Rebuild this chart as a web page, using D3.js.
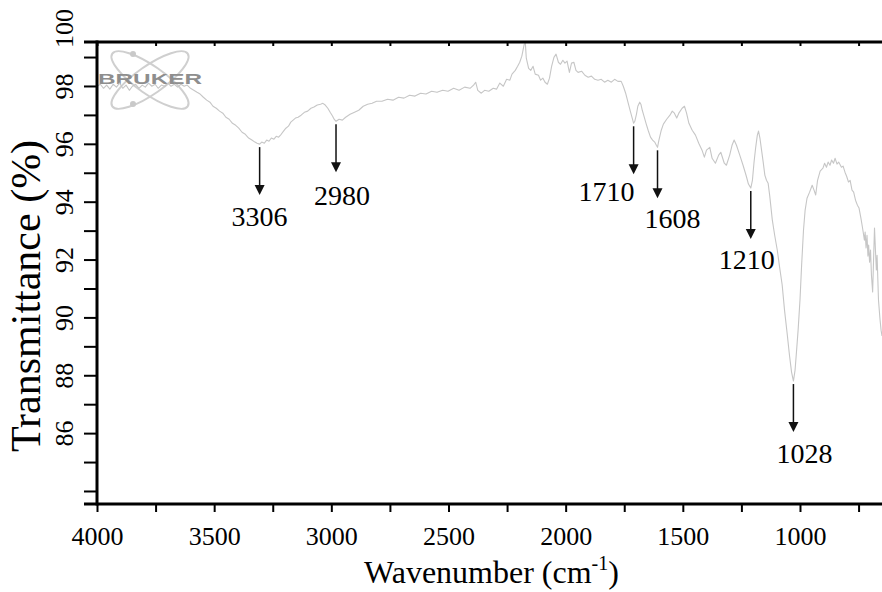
<!DOCTYPE html>
<html>
<head>
<meta charset="utf-8">
<script src="https://cdn.jsdelivr.net/npm/d3@7"></script>
<style>
  html, body { margin: 0; padding: 0; background: #fff; }
  svg { display: block; }
  svg text { font-family: 'Liberation Serif', 'Times New Roman', Times, serif; }
</style>
</head>
<body>
<svg id="chart" width="882" height="592"></svg>
<script>
// FTIR transmittance spectrum: [wavenumber (cm-1), transmittance (%)]
const spectrum = [
  [4000,97.99],[3986,98.06],[3972,97.92],[3959,98.03],[3945,97.89],[3931,98.06],[3917,97.96],[3904,98.10],
  [3890,97.92],[3876,98.03],[3862,97.85],[3849,97.99],[3835,98.06],[3821,97.92],[3807,98.03],[3794,97.96],
  [3780,98.10],[3766,97.99],[3752,98.06],[3739,97.92],[3725,98.03],[3711,97.99],[3697,98.10],[3684,97.99],
  [3670,98.06],[3656,97.96],[3642,98.06],[3628,97.99],[3615,98.03],[3601,97.92],[3587,97.85],[3573,97.78],
  [3560,97.72],[3546,97.61],[3532,97.51],[3518,97.44],[3505,97.30],[3491,97.23],[3477,97.13],[3463,97.06],
  [3450,96.92],[3436,96.85],[3422,96.71],[3408,96.64],[3395,96.54],[3381,96.40],[3367,96.33],[3353,96.20],
  [3339,96.13],[3326,96.06],[3317,96.02],[3306,95.99],
  [3297,96.06],[3286,96.02],[3276,96.13],[3266,96.09],[3256,96.20],[3245,96.16],[3235,96.26],[3225,96.23],
  [3214,96.33],[3204,96.44],[3194,96.54],[3183,96.61],[3173,96.75],[3163,96.82],[3153,96.89],[3142,96.92],
  [3129,96.99],[3115,97.09],[3101,97.13],[3087,97.23],[3074,97.27],[3060,97.34],[3046,97.37],[3036,97.40],
  [3026,97.34],[3015,97.23],[3005,97.09],[2995,96.96],[2988,96.85],[2980,96.78],
  [2967,96.85],[2953,96.82],[2939,96.92],[2920,97.02],[2901,97.09],[2883,97.16],[2864,97.30],[2845,97.37],
  [2826,97.40],[2807,97.47],[2784,97.47],[2760,97.54],[2737,97.51],[2713,97.61],[2690,97.58],[2666,97.68],
  [2643,97.65],[2619,97.75],[2596,97.72],[2572,97.82],[2549,97.78],[2525,97.85],[2502,97.82],[2478,97.92],
  [2455,97.85],[2431,97.96],[2408,97.92],[2393,98.03],[2384,98.13],[2375,97.85],[2360,97.75],[2346,97.85],
  [2328,97.82],[2309,97.92],[2295,97.89],[2281,98.10],[2266,97.99],[2252,98.23],[2238,98.20],[2229,98.41],
  [2215,98.54],[2205,98.68],[2196,98.82],[2187,99.03],[2177,99.44],[2172,99.48],[2168,98.96],[2158,98.61],
  [2149,98.54],[2139,98.68],[2130,98.41],[2116,98.37],[2107,98.20],[2097,98.27],[2088,98.13],[2078,98.06],
  [2069,98.27],[2060,98.68],[2050,98.99],[2041,99.10],[2031,98.82],[2022,98.75],[2012,98.89],[2003,98.79],
  [1994,98.86],[1984,98.47],[1975,98.79],[1965,98.82],[1956,98.54],[1947,98.47],[1932,98.51],[1918,98.37],
  [1904,98.30],[1890,98.34],[1876,98.23],[1862,98.20],[1848,98.23],[1834,98.13],[1820,98.20],[1805,98.13],
  [1791,98.23],[1777,98.16],[1763,98.16],[1754,97.99],[1744,97.75],[1735,97.47],[1725,97.16],[1716,96.89],
  [1710,96.71],
  [1705,96.78],[1698,97.02],[1692,97.30],[1684,97.44],[1679,97.37],[1673,97.16],[1667,96.99],[1657,96.71],
  [1648,96.47],[1638,96.23],[1629,96.13],[1620,96.06],[1613,95.95],[1608,95.88],
  [1602,96.13],[1592,96.47],[1583,96.68],[1569,96.85],[1555,96.99],[1545,97.13],[1536,97.06],[1526,96.89],
  [1517,97.06],[1503,97.23],[1493,97.30],[1484,97.06],[1474,96.71],[1460,96.47],[1446,96.30],[1432,96.02],
  [1418,95.78],[1408,95.54],[1399,95.78],[1385,95.88],[1375,95.50],[1361,95.33],[1347,95.61],[1338,95.71],
  [1323,95.33],[1314,95.26],[1300,95.61],[1290,95.95],[1281,96.13],[1271,95.95],[1257,95.61],[1243,95.26],
  [1229,94.88],[1220,94.61],[1210,94.47],
  [1203,94.74],[1196,95.37],[1189,95.88],[1182,96.30],[1177,96.44],[1171,96.20],[1164,95.78],[1157,95.37],
  [1150,94.92],[1143,94.74],[1136,94.64],[1129,94.19],[1118,93.36],[1108,92.84],[1097,92.33],[1087,91.74],
  [1076,91.12],[1066,90.25],[1055,89.46],[1045,88.70],[1036,88.11],[1028,87.80],
  [1021,88.18],[1016,88.70],[1008,89.56],[1000,90.60],[993,91.81],[985,93.02],[978,93.71],[970,94.12],
  [959,94.33],[948,94.57],[940,94.40],[933,94.23],[925,94.74],[914,95.06],[902,95.16],[895,95.33],
  [887,95.19],[880,95.37],[872,95.26],[865,95.44],[857,95.33],[850,95.50],[842,95.30],[835,95.37],
  [823,95.19],[816,95.23],[808,95.02],[801,94.88],[793,94.68],[786,94.74],[778,94.40],[771,94.33],
  [763,94.05],[755,93.88],[748,93.78],[740,93.43],[733,93.09],[725,92.67],[722,92.95],[718,92.40],
  [714,92.84],[710,92.12],[707,92.50],[703,91.91],[699,92.33],[695,91.46],[690,90.88],[686,91.98],
  [682,93.09],[678,92.33],[674,91.64],[671,92.15],[665,90.60],[659,89.98],[654,89.56],[650,89.36]
];

// Assigned absorption bands (cm-1)
const bands = [3306, 2980, 1710, 1608, 1210, 1028];

// Axis extents and ticks
const xDomain = [4000, 650];
const yDomain = [83.55, 99.52];
const xMajorTicks = [4000, 3500, 3000, 2500, 2000, 1500, 1000];
const xMinorTicks = [3750, 3250, 2750, 2250, 1750, 1250, 750];
const yLabelTicks = [86, 88, 90, 92, 94, 96, 98, 100];
const yMinorTicks = [84, 85, 87, 89, 91, 93, 95, 97, 99];

const svg = d3.select("#chart");
const plot = { left: 97, right: 882, top: 42, bottom: 504 };
const serif = "'Liberation Serif', 'Times New Roman', Times, serif";

const x = d3.scaleLinear().domain(xDomain).range([plot.left, plot.right]);
const y = d3.scaleLinear().domain(yDomain).range([plot.bottom, plot.top]);

// Instrument logo watermark
const logo = svg.append("g")
  .attr("transform", `translate(${plot.left + 53},80)`)
  .attr("opacity", 0.9);
[35, -35].forEach(a => {
  logo.append("ellipse")
    .attr("rx", 46).attr("ry", 14)
    .attr("transform", `rotate(${a})`)
    .attr("fill", "none").attr("stroke", "#cacaca").attr("stroke-width", 2);
});
[[-17, -26], [-17, 24]].forEach(([cx, cy]) => {
  logo.append("circle").attr("cx", cx).attr("cy", cy).attr("r", 3).attr("fill", "#c4c4c4");
});
svg.append("text")
  .attr("x", plot.left + 1).attr("y", 83.5)
  .attr("textLength", 104).attr("lengthAdjust", "spacingAndGlyphs")
  .style("font-family", "'Liberation Sans', Arial, sans-serif")
  .attr("font-weight", "bold").attr("font-size", 15)
  .attr("fill", "#8e8e8e")
  .text("BRUKER");

// Spectrum trace
const line = d3.line().x(d => x(d[0])).y(d => y(d[1]));
svg.append("path")
  .datum(spectrum)
  .attr("d", line)
  .attr("fill", "none")
  .attr("stroke", "#c6c6c6")
  .attr("stroke-width", 1.1)
  .attr("stroke-linejoin", "round");

// Transmittance of the trace at a given wavenumber (linear interpolation)
const bisect = d3.bisector(d => -d[0]).left;
function transmittanceAt(wn) {
  const i = Math.max(1, Math.min(spectrum.length - 1, bisect(spectrum, -wn)));
  const a = spectrum[i - 1], b = spectrum[i];
  const t = (a[0] - wn) / (a[0] - b[0]);
  return a[1] + t * (b[1] - a[1]);
}

// Band arrows and labels
const arrowGap = 3, arrowLen = 48, headH = 10, headW = 5;
const labelLayout = {
  3306: { dx: 0,  dy: 31 },
  2980: { dx: 6,  dy: 33 },
  1710: { dx: 1,  dy: 27, anchor: "end" },
  1608: { dx: 15, dy: 30 },
  1210: { dx: -4, dy: 30 },
  1028: { dx: 11, dy: 31 }
};
const ann = svg.append("g");
bands.forEach(wn => {
  const bx = x(wn);
  const top = y(transmittanceAt(wn)) + arrowGap;
  const tip = top + arrowLen;
  ann.append("line")
    .attr("x1", bx).attr("x2", bx)
    .attr("y1", top).attr("y2", tip - headH + 1)
    .attr("stroke", "#111").attr("stroke-width", 1.5);
  ann.append("path")
    .attr("d", `M${bx - headW},${tip - headH}L${bx + headW},${tip - headH}L${bx},${tip}Z`)
    .attr("fill", "#111");
  const lay = labelLayout[wn] || { dx: 0, dy: 31 };
  ann.append("text")
    .attr("x", bx + lay.dx).attr("y", tip + lay.dy)
    .attr("text-anchor", lay.anchor || "middle")
    .style("font-family", serif).attr("font-size", 28)
    .attr("fill", "#000")
    .text(wn);
});

// Axes
const xAxis = svg.append("g")
  .attr("transform", `translate(0,${plot.bottom})`)
  .call(d3.axisBottom(x)
    .tickValues(xMajorTicks.concat(xMinorTicks))
    .tickSize(8).tickSizeOuter(0)
    .tickFormat(d => xMajorTicks.includes(d) ? d : ""));
xAxis.attr("font-family", null);
xAxis.select(".domain").remove();
xAxis.selectAll(".tick line").attr("stroke", "#000").attr("stroke-width", 2);
xAxis.selectAll(".tick text")
  .attr("y", 41).attr("dy", 0)
  .style("font-family", serif).attr("font-size", 26).attr("fill", "#000");

const topAxis = svg.append("g")
  .attr("transform", `translate(0,${plot.top})`)
  .call(d3.axisTop(x)
    .tickValues(xMajorTicks.concat(xMinorTicks))
    .tickSize(-4).tickSizeOuter(0)
    .tickFormat(""));
topAxis.select(".domain").remove();
topAxis.selectAll(".tick line").attr("stroke", "#000").attr("stroke-width", 2);

const yAxis = svg.append("g")
  .attr("transform", `translate(${plot.left},0)`)
  .call(d3.axisLeft(y)
    .tickValues(yLabelTicks.concat(yMinorTicks))
    .tickSize(13).tickSizeOuter(0)
    .tickFormat(d => yLabelTicks.includes(d) ? d : ""));
yAxis.attr("font-family", null);
yAxis.select(".domain").remove();
yAxis.selectAll(".tick line")
  .attr("stroke", "#000").attr("stroke-width", 2)
  .attr("x2", d => d > yDomain[1] ? 0 : -13);
yAxis.selectAll(".tick text")
  .attr("x", 0).attr("dy", 0)
  .attr("text-anchor", "middle")
  .attr("transform", "translate(-24,0) rotate(-90)")
  .style("font-family", serif).attr("font-size", 26).attr("fill", "#000");

// Frame
const frame = svg.append("g").attr("stroke", "#000").attr("stroke-width", 3).attr("fill", "none");
frame.append("line").attr("x1", plot.left).attr("x2", plot.left).attr("y1", plot.top - 1.5).attr("y2", plot.bottom + 1.5);
frame.append("line").attr("x1", plot.left - 13).attr("x2", plot.right).attr("y1", plot.bottom).attr("y2", plot.bottom);
frame.append("line").attr("x1", plot.left - 13).attr("x2", plot.right).attr("y1", plot.top).attr("y2", plot.top);

// Axis titles
const xTitle = svg.append("text")
  .attr("x", (plot.left + plot.right) / 2 + 2).attr("y", 583)
  .attr("text-anchor", "middle")
  .style("font-family", serif).attr("font-size", 32).attr("fill", "#000");
xTitle.append("tspan").text("Wavenumber (cm");
xTitle.append("tspan").attr("font-size", 20).attr("dy", -13).text("-1");
xTitle.append("tspan").attr("dy", 13).text(")");

svg.append("text")
  .attr("transform", `translate(40,296) rotate(-90)`)
  .attr("text-anchor", "middle")
  .style("font-family", serif).attr("font-size", 42).attr("fill", "#000")
  .text("Transmittance (%)");
</script>
</body>
</html>
